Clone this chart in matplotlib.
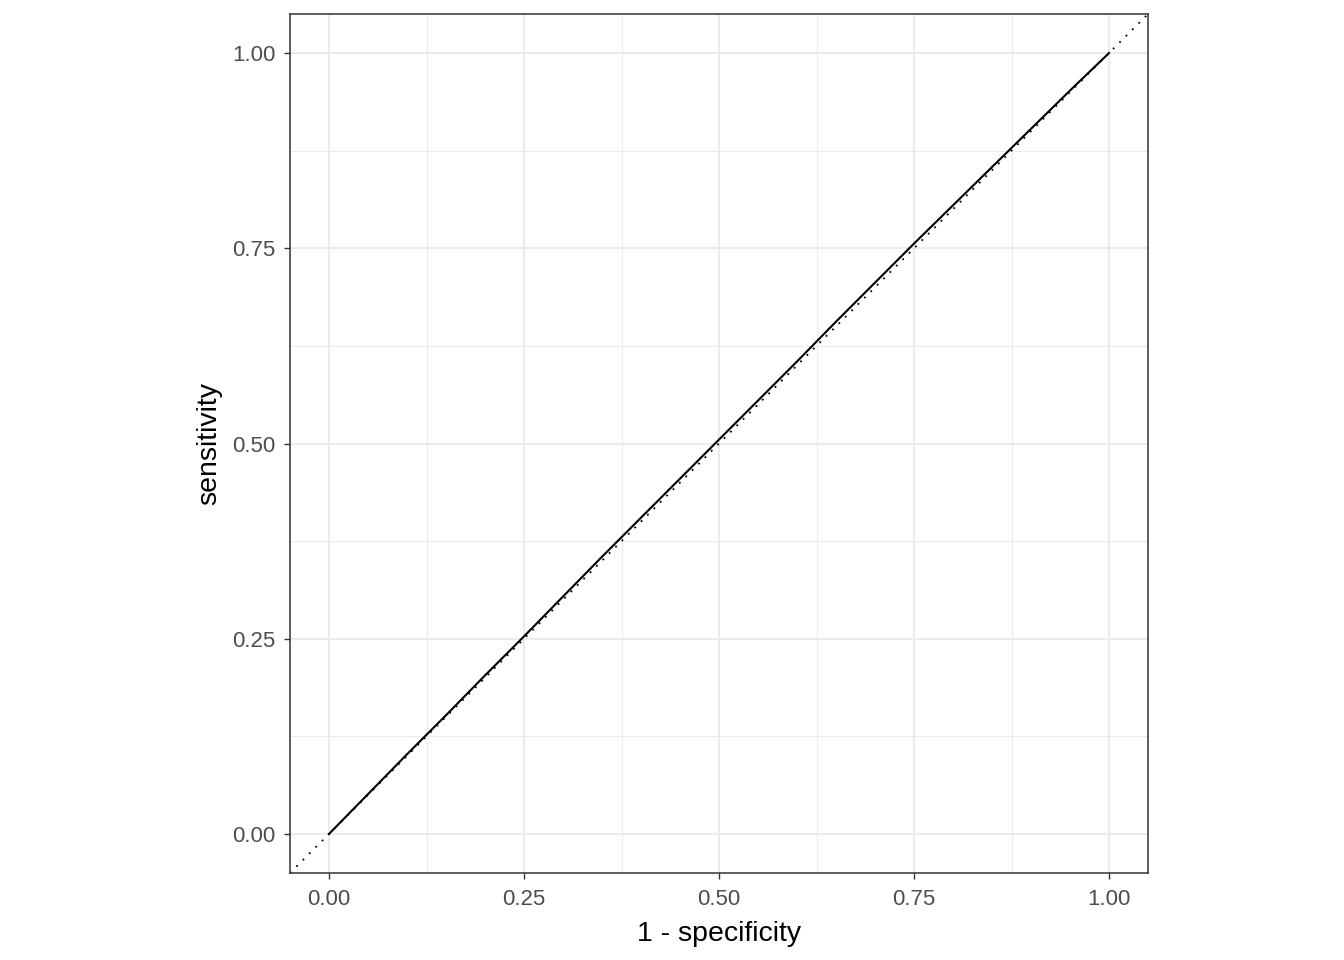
import matplotlib
matplotlib.use("Agg")
import matplotlib.pyplot as plt
from matplotlib.ticker import MultipleLocator

plt.rcParams['font.family'] = ['Liberation Sans', 'DejaVu Sans']

# ROC curve points
fpr = [0.00, 0.05, 0.10, 0.15, 0.20, 0.25, 0.30, 0.35, 0.40, 0.45, 0.50,
       0.55, 0.60, 0.65, 0.70, 0.75, 0.80, 0.85, 0.90, 0.95, 1.00]
tpr = [0.00, 0.051, 0.102, 0.152, 0.203, 0.253, 0.304, 0.355, 0.405, 0.455, 0.505,
       0.555, 0.605, 0.656, 0.706, 0.756, 0.805, 0.854, 0.903, 0.952, 1.00]

ticks = [0.00, 0.25, 0.50, 0.75, 1.00]
tick_labels = ["0.00", "0.25", "0.50", "0.75", "1.00"]

fig = plt.figure(figsize=(13.44, 9.6), dpi=100)
ax = fig.add_axes([290/1344, 87/960, 858/1344, 859/960])

ax.set_xlim(-0.05, 1.05)
ax.set_ylim(-0.05, 1.05)

ax.xaxis.set_major_locator(MultipleLocator(0.25))
ax.yaxis.set_major_locator(MultipleLocator(0.25))
ax.xaxis.set_minor_locator(MultipleLocator(0.125))
ax.yaxis.set_minor_locator(MultipleLocator(0.125))
ax.grid(which='major', color='#EBEBEB', linewidth=1.5, zorder=0)
ax.grid(which='minor', color='#EBEBEB', linewidth=0.75, zorder=0)
ax.set_axisbelow(True)

ax.axline((0, 0), slope=1, color='black', linestyle=(0, (1, 4)), linewidth=1.3, zorder=2)
ax.plot(fpr, tpr, color='black', linewidth=1.5, zorder=3)

ax.set_xticks(ticks)
ax.set_xticklabels(tick_labels)
ax.set_yticks(ticks)
ax.set_yticklabels(tick_labels)
ax.tick_params(which='major', length=4.5, width=1.0, color='#333333',
               labelcolor='#4D4D4D', labelsize=16)
ax.tick_params(axis='x', pad=7)
ax.tick_params(axis='y', pad=6)
ax.tick_params(which='minor', length=0)

for s in ax.spines.values():
    s.set_color('#333333')
    s.set_linewidth(1.1)

ax.set_xlabel('1 - specificity', fontsize=20.5, color='black', labelpad=8)
ax.set_ylabel('sensitivity', fontsize=20.5, color='black', labelpad=7)

fig.savefig('out.png', dpi=100)
